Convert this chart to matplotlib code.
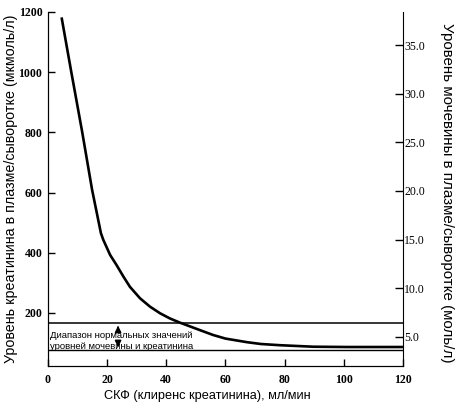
import matplotlib.pyplot as plt
import numpy as np

# данные кривой: СКФ (мл/мин) и креатинин (мкмоль/л)
gfr = [4.6, 7.8, 11.5, 14.9, 17.9, 18.7, 21.0, 23.2, 25.5, 27.7, 31.1, 34.5,
       37.9, 41.2, 44.6, 51.4, 55.8, 60.0, 67.3, 72.0, 78.4, 89.6, 101.0, 120.0]
creat = [1182, 1005, 805, 610, 465, 443, 393, 359, 321, 287, 249, 221,
         199, 182, 168, 143, 127, 115, 103, 97, 93, 88, 87, 87]

# диапазон нормальных значений (в единицах левой оси)
norm_low, norm_high = 77, 167

x_ticks = [0, 20, 40, 60, 80, 100, 120]
left_ticks = [200, 400, 600, 800, 1000, 1200]
right_ticks = [5, 10, 15, 20, 25, 30, 35]

plt.rcParams['font.family'] = ['Liberation Sans', 'DejaVu Sans']

fig = plt.figure(figsize=(4.6, 4.08), dpi=100)
ax = fig.add_axes([0.1043, 0.103, 0.7717, 0.8676])

ax.plot(gfr, creat, color='black', lw=1.9, solid_capstyle='butt', solid_joinstyle='round')
ax.axhline(norm_high, color='black', lw=1.1)
ax.axhline(norm_low, color='black', lw=1.0)

ax.set_xlim(0, 120)
ax.set_ylim(24, 1200)
ax.spines['top'].set_visible(False)
ax.spines['right'].set_visible(False)

tick_font = dict(family='Liberation Serif', size=8.5, weight='bold')
ax.set_xticks(x_ticks)
ax.set_xticklabels([str(v) for v in x_ticks], fontdict=tick_font)
ax.set_yticks(left_ticks)
ax.set_yticklabels([str(v) for v in left_ticks], fontdict=tick_font)
ax.tick_params(axis='both', direction='in', length=5, width=1)
ax.tick_params(axis='x', pad=6)
ax.tick_params(axis='y', pad=4)

ax.set_xlabel('СКФ (клиренс креатинина), мл/мин', fontsize=9.2, va='center')
ax.xaxis.set_label_coords(0.45, -0.085)
ax.set_ylabel('Уровень креатинина в плазме/сыворотке (мкмоль/л)', fontsize=10.3,
              va='center')
ax.yaxis.set_label_coords(-0.104, 0.5)

ax2 = ax.twinx()
ax2.set_ylim(2.0, 38.4)
ax2.spines['top'].set_visible(False)
ax2.set_yticks(right_ticks)
ax2.set_yticklabels(['%.1f' % v for v in right_ticks],
                    fontdict=dict(family='Liberation Serif', size=8.5))
ax2.tick_params(axis='y', direction='in', length=6, width=1, pad=1)
ax2.set_ylabel('Уровень мочевины в плазме/сыворотке (моль/л)', fontsize=10.9,
               rotation=-90, va='center')
ax2.yaxis.set_label_coords(1.124, 0.49)

# подпись диапазона и стрелки
ax.text(0.7, 124, 'Диапазон нормальных значений', fontsize=6.8, va='center', ha='left')
ax.text(0.7, 88, 'уровней мочевины и креатинина', fontsize=6.8, va='center', ha='left')
ax.annotate('', xy=(23.7, norm_high), xytext=(23.7, 138),
            arrowprops=dict(arrowstyle='-|>', color='black', lw=1.2, mutation_scale=9))
ax.annotate('', xy=(23.7, norm_low), xytext=(23.7, 106),
            arrowprops=dict(arrowstyle='-|>', color='black', lw=1.2, mutation_scale=9))

fig.savefig('out.png', dpi=100)
